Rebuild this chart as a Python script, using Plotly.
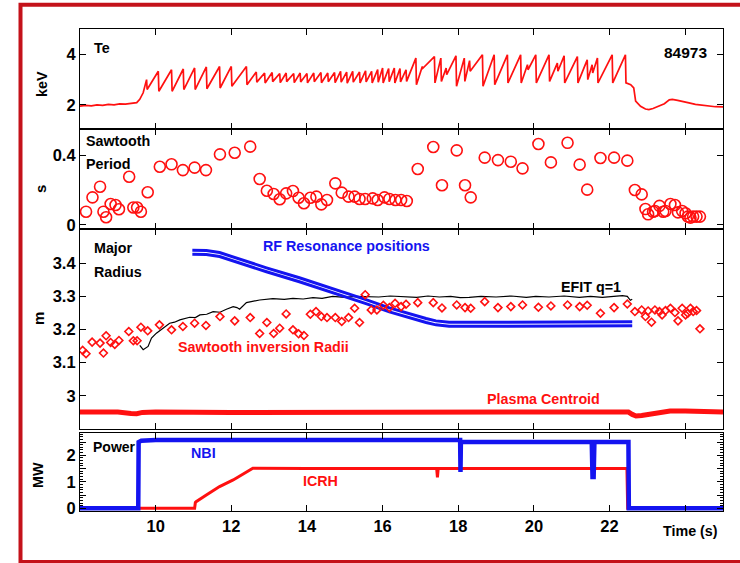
import plotly.graph_objects as go

FONT = "Liberation Sans, Arial, Helvetica, sans-serif"
RED = "#ff1010"
BLUE = "#1414f0"

# ---------------- Te (keV) ----------------
te_pre_t = [8.0, 8.15, 8.3, 8.45, 8.6, 8.75, 8.9, 9.05, 9.2, 9.35, 9.5, 9.58, 9.67]
te_pre_v = [1.95, 1.98, 1.96, 2.0, 1.98, 2.02, 2.0, 2.04, 2.03, 2.06, 2.09, 2.22, 2.48]

saw_crash_t = [9.76, 10.07, 10.42, 10.73, 11.03, 11.34, 11.69, 12.00, 12.40,
               12.66, 12.88, 13.08, 13.28, 13.45, 13.65, 13.82, 14.00, 14.18, 14.37,
               14.55, 14.73, 14.89, 15.05, 15.21, 15.39, 15.55, 15.71, 15.87, 16.00,
               16.16, 16.31, 16.46, 16.62,
               16.88, 17.05, 17.37, 17.54, 17.68, 17.94, 18.16, 18.30, 18.64, 18.95,
               19.30, 19.65, 19.83, 20.05, 20.40, 20.62, 20.80, 21.15, 21.41, 21.54,
               21.68, 22.07, 22.42]
saw_peak = [3.00, 3.33, 3.39, 3.42, 3.46, 3.50, 3.52, 3.52, 3.52,
            3.30, 3.26, 3.28, 3.24, 3.26, 3.24, 3.26, 3.24, 3.26, 3.28,
            3.26, 3.28, 3.33, 3.30, 3.33, 3.30, 3.35, 3.33, 3.40, 3.46,
            3.44, 3.46, 3.44, 3.39,
            3.85, 3.52, 3.91, 3.85, 3.46, 3.94, 3.85, 3.75, 3.98, 3.98,
            3.98, 3.98, 3.59, 3.98, 3.98, 3.65, 3.94, 3.91, 3.78, 3.59,
            3.85, 3.98, 3.98]
saw_trough = [2.61, 2.54, 2.54, 2.61, 2.61, 2.64, 2.67, 2.74, 2.80,
              2.90, 2.87, 2.92, 2.88, 2.92, 2.88, 2.91, 2.87, 2.92, 2.88,
              2.92, 2.88, 2.90, 2.86, 2.90, 2.87, 2.91, 2.87, 2.90, 2.87,
              2.92, 2.87, 2.91, 2.93,
              2.80, 3.45, 2.87, 2.93, 3.20, 2.74, 2.93, 3.33, 2.74, 2.80,
              2.87, 2.87, 3.39, 2.87, 2.93, 3.33, 2.87, 2.87, 3.00, 3.26,
              2.87, 2.87, 2.87]

te_post_t = [22.56, 22.64, 22.69, 22.82, 22.95, 23.04, 23.15, 23.30, 23.45, 23.58, 23.66,
             23.80, 23.92, 24.10, 24.27, 24.45, 24.62, 24.80, 25.0]
te_post_v = [2.80, 2.67, 2.15, 1.95, 1.84, 1.82, 1.86, 1.96, 2.05, 2.20, 2.22,
             2.18, 2.15, 2.08, 2.02, 1.98, 1.95, 1.93, 1.92]

# ---------------- Sawtooth period (s) ----------------
per_t = [8.16, 8.33, 8.53, 8.62, 8.69, 8.81, 8.94, 9.03, 9.30, 9.41, 9.51, 9.61, 9.79,
         10.11, 10.42, 10.72, 11.03, 11.33, 11.70, 12.09, 12.50, 12.75, 12.94, 13.12,
         13.28, 13.45, 13.63, 13.78, 13.92, 14.09, 14.25, 14.38, 14.53, 14.75, 14.92,
         15.10, 15.26, 15.39, 15.54, 15.74, 15.87, 16.05, 16.18, 16.34, 16.49, 16.64,
         16.93, 17.34, 17.57, 17.96, 18.18, 18.33, 18.70, 19.05, 19.39, 19.70, 20.12,
         20.45, 20.89, 21.21, 21.41, 21.76, 22.12, 22.47, 22.67, 22.85, 22.95, 23.02,
         23.15, 23.20, 23.32, 23.42, 23.48, 23.61, 23.73, 23.81, 23.92, 24.01, 24.07,
         24.14, 24.21, 24.30, 24.39]
per_v = [0.076, 0.158, 0.219, 0.076, 0.044, 0.120, 0.114, 0.090, 0.276, 0.100, 0.100,
         0.076, 0.187, 0.333, 0.347, 0.314, 0.328, 0.314, 0.404, 0.413, 0.448, 0.263,
         0.196, 0.177, 0.147, 0.181, 0.194, 0.156, 0.124, 0.156, 0.162, 0.118, 0.143,
         0.238, 0.185, 0.162, 0.162, 0.149, 0.149, 0.152, 0.143, 0.158, 0.149, 0.143,
         0.143, 0.137, 0.320, 0.446, 0.227, 0.427, 0.227, 0.158, 0.385, 0.371, 0.362,
         0.324, 0.463, 0.358, 0.470, 0.345, 0.202, 0.383, 0.385, 0.368, 0.200, 0.175,
         0.091, 0.061, 0.076, 0.080, 0.109, 0.076, 0.080, 0.120, 0.114, 0.072, 0.080,
         0.067, 0.048, 0.042, 0.048, 0.048, 0.048]

# ---------------- Major radius (m) ----------------
inv_t = [8.07, 8.16, 8.32, 8.53, 8.62, 8.69, 8.81, 8.92, 9.03, 9.29, 9.41, 9.51, 9.61,
         9.79, 10.10, 10.42, 10.72, 11.03, 11.33, 11.70, 12.09, 12.50, 12.75, 12.94,
         13.12, 13.28, 13.45, 13.63, 13.78, 13.92, 14.09, 14.24, 14.38, 14.53, 14.75,
         14.92, 15.10, 15.26, 15.39, 15.54, 15.70, 15.85, 16.02, 16.18, 16.33, 16.49,
         16.62, 16.93, 17.34, 17.57, 17.96, 18.18, 18.33, 18.70, 19.05, 19.39, 19.70,
         20.12, 20.45, 20.89, 21.21, 21.41, 21.76, 22.12, 22.47, 22.67, 22.85, 22.95,
         23.02, 23.11, 23.20, 23.32, 23.39, 23.48, 23.61, 23.73, 23.81, 23.92, 24.01,
         24.07, 24.14, 24.21, 24.30, 24.39]
inv_r = [3.137, 3.127, 3.162, 3.159, 3.129, 3.181, 3.161, 3.155, 3.167, 3.194, 3.166,
         3.166, 3.207, 3.196, 3.214, 3.199, 3.209, 3.219, 3.212, 3.239, 3.226, 3.236,
         3.188, 3.221, 3.188, 3.204, 3.247, 3.199, 3.187, 3.182, 3.246, 3.254, 3.239,
         3.236, 3.236, 3.224, 3.236, 3.264, 3.221, 3.305, 3.259, 3.259, 3.273, 3.266,
         3.279, 3.269, 3.276, 3.281, 3.281, 3.265, 3.274, 3.266, 3.264, 3.284, 3.266,
         3.269, 3.274, 3.267, 3.271, 3.274, 3.269, 3.273, 3.249, 3.266, 3.277, 3.254,
         3.259, 3.239, 3.256, 3.222, 3.259, 3.254, 3.244, 3.257, 3.264, 3.251, 3.226,
         3.264, 3.244, 3.249, 3.264, 3.254, 3.257, 3.202]

efit_t = [9.58, 9.67, 9.80, 9.89, 10.02, 10.20, 10.37, 10.50, 10.64, 10.90, 11.05, 11.17,
          11.35, 11.52, 11.70, 11.87, 12.05, 12.15, 12.22, 12.40, 12.55, 12.75, 13.10,
          13.40, 13.63, 13.90, 14.16, 14.40, 14.68, 15.00, 15.30, 15.56, 15.90, 16.20,
          16.53, 16.90, 17.20, 17.50, 17.80, 18.05, 18.29, 18.60, 19.00, 19.40, 19.80,
          20.05, 20.40, 20.80, 21.20, 21.50, 21.81, 22.10, 22.34, 22.47, 22.55, 22.60]
efit_r = [3.152, 3.139, 3.149, 3.174, 3.189, 3.204, 3.219, 3.222, 3.229, 3.237, 3.236,
          3.244, 3.246, 3.254, 3.252, 3.261, 3.269, 3.266, 3.261, 3.281, 3.284, 3.289,
          3.293, 3.291, 3.294, 3.292, 3.296, 3.294, 3.300, 3.297, 3.300, 3.300, 3.298,
          3.301, 3.300, 3.297, 3.301, 3.298, 3.300, 3.296, 3.297, 3.300, 3.298, 3.301,
          3.297, 3.300, 3.298, 3.301, 3.297, 3.300, 3.297, 3.300, 3.302, 3.300, 3.288,
          3.291]

rf_t = [10.97, 11.34, 11.69, 12.05, 12.49, 12.93, 13.80, 14.68, 15.56, 16.18, 16.71,
        17.15, 17.41, 17.76, 19.17, 20.93, 22.60]
rf_upper = [3.439, 3.438, 3.432, 3.418, 3.401, 3.386, 3.356, 3.324, 3.290, 3.265, 3.247,
            3.233, 3.226, 3.222, 3.222, 3.222, 3.223]
rf_lower = [3.427, 3.426, 3.420, 3.406, 3.389, 3.374, 3.344, 3.312, 3.278, 3.253, 3.235,
            3.221, 3.214, 3.210, 3.210, 3.210, 3.211]

cent_t = [8.0, 9.0, 9.35, 9.5, 9.65, 10.0, 12.0, 14.0, 16.0, 18.0, 20.0, 22.0, 22.5,
          22.6, 22.7, 22.85, 23.1, 23.4, 23.6, 24.0, 24.5, 25.0]
cent_r = [2.951, 2.951, 2.947, 2.946, 2.950, 2.951, 2.950, 2.951, 2.951, 2.951, 2.951,
          2.951, 2.951, 2.944, 2.939, 2.941, 2.946, 2.951, 2.954, 2.954, 2.951, 2.951]

# ---------------- Power (MW) ----------------
nbi_t = [8.0, 9.54, 9.55, 9.62, 10.0, 11.0, 12.0, 14.0, 16.0, 18.05, 18.06,
         18.07, 20.0, 21.53, 21.55, 21.58, 21.60, 22.50, 22.51, 25.0]
nbi_v = [0, 0, 2.50, 2.55, 2.58, 2.58, 2.59, 2.58, 2.59, 2.58, 1.37,
         2.50, 2.50, 2.50, 1.18, 1.18, 2.50, 2.50, 0, 0]

icrh_t = [8.0, 11.03, 11.05, 11.07, 11.34, 11.69, 12.05, 12.40, 12.57, 14.0, 16.0,
          17.43, 17.45, 17.47, 18.0, 20.0, 22.46, 22.48, 25.0]
icrh_v = [0, 0, 0.22, 0.25, 0.50, 0.82, 1.07, 1.38, 1.51, 1.50, 1.50,
          1.50, 1.17, 1.50, 1.50, 1.50, 1.50, 0, 0]

x_ticks = [10, 12, 14, 16, 18, 20, 22, 24]
x_ticklabels = ["10", "12", "14", "16", "18", "20", "22", ""]

# build the Te vertex table from the sawtooth lists
te_t = list(te_pre_t)
te_v = list(te_pre_v)
for tc, pk, tr in zip(saw_crash_t, saw_peak, saw_trough):
    te_t += [tc, tc + 0.015]
    te_v += [pk, tr]
te_t += te_post_t
te_v += te_post_v

fig = go.Figure()
fig.add_trace(go.Scatter(x=te_t, y=te_v, mode="lines", line=dict(color=RED, width=1.7),
                         xaxis="x", yaxis="y"))
fig.add_trace(go.Scatter(x=per_t, y=per_v, mode="markers",
                         marker=dict(symbol="circle-open", size=11, color=RED,
                                     line=dict(width=1.6, color=RED)),
                         xaxis="x2", yaxis="y2"))
fig.add_trace(go.Scatter(x=cent_t, y=cent_r, mode="lines", line=dict(color=RED, width=5),
                         xaxis="x3", yaxis="y3"))
fig.add_trace(go.Scatter(x=efit_t, y=efit_r, mode="lines", line=dict(color="black", width=1.2),
                         xaxis="x3", yaxis="y3"))
fig.add_trace(go.Scatter(x=rf_t, y=rf_upper, mode="lines", line=dict(color=BLUE, width=3),
                         xaxis="x3", yaxis="y3"))
fig.add_trace(go.Scatter(x=rf_t, y=rf_lower, mode="lines", line=dict(color=BLUE, width=3),
                         xaxis="x3", yaxis="y3"))
fig.add_trace(go.Scatter(x=inv_t, y=inv_r, mode="markers",
                         marker=dict(symbol="diamond-open", size=6, color=RED,
                                     line=dict(width=1.6, color=RED)),
                         xaxis="x3", yaxis="y3"))
fig.add_trace(go.Scatter(x=icrh_t, y=icrh_v, mode="lines", line=dict(color=RED, width=3),
                         xaxis="x4", yaxis="y4"))
fig.add_trace(go.Scatter(x=nbi_t, y=nbi_v, mode="lines", line=dict(color=BLUE, width=4.5),
                         xaxis="x4", yaxis="y4"))

W, H = 740, 563
L, R, T, B = 80, 17, 29, 52
PW, PH = W - L - R, H - T - B


def pxx(x):
    return (x - L) / PW


def pyy(y):
    return (H - B - y) / PH


TICKFONT = dict(family=FONT, size=16.5, color="black", weight=700)


def common(**kw):
    d = dict(showline=True, linecolor="black", linewidth=1.2, mirror="ticks",
             ticks="inside", ticklen=6, tickwidth=1.2, tickcolor="black",
             zeroline=False, showgrid=False, tickfont=TICKFONT)
    d.update(kw)
    return d


doms = [(pyy(129), 1.0), (pyy(229), pyy(129)), (pyy(429), pyy(229)), (0.0, pyy(433))]

layout = dict(width=W, height=H, margin=dict(l=L, r=R, t=T, b=B),
              paper_bgcolor="white", plot_bgcolor="white", showlegend=False,
              font=dict(family=FONT, size=14, color="black"))
for i in range(4):
    sx = "" if i == 0 else str(i + 1)
    xa = common(range=[8, 25], tickmode="array", tickvals=x_ticks, ticktext=x_ticklabels,
                anchor="y" + sx, domain=[0, 1], showticklabels=(i == 3))
    if i > 0:
        xa["matches"] = "x"
    layout["xaxis" + sx] = xa
layout["yaxis"] = common(range=[1.05, 5.0], tickvals=[2, 4], anchor="x", domain=list(doms[0]))
layout["yaxis2"] = common(range=[-0.023, 0.549], tickvals=[0, 0.4], ticktext=["0", "0.4"],
                          anchor="x2", domain=list(doms[1]))
layout["yaxis3"] = common(range=[2.90, 3.503], tickvals=[3.0, 3.1, 3.2, 3.3, 3.4],
                          ticktext=["3", "3.1", "3.2", "3.3", "3.4"],
                          anchor="x3", domain=list(doms[2]))
layout["yaxis4"] = common(range=[-0.10, 2.84], tickvals=[0, 0.5, 1, 1.5, 2, 2.5],
                          ticktext=["0", "", "1", "", "2", ""], anchor="x4",
                          domain=list(doms[3]),
                          minor=dict(dtick=0.1, tick0=0, ticks="inside", ticklen=3,
                                     tickcolor="black", tickwidth=1))
fig.update_layout(**layout)


def ann(text, x, y, color="black", xanchor="center", angle=0, size=14.3):
    fig.add_annotation(text=text, x=pxx(x), y=pyy(y), xref="paper", yref="paper",
                       showarrow=False, xanchor=xanchor, yanchor="middle",
                       textangle=angle,
                       font=dict(family=FONT, size=size, color=color, weight=700))


ann("keV", 42, 84, angle=-90)
ann("s", 40, 189, angle=-90, size=15)
ann("m", 38, 319, angle=-90, size=15)
ann("MW", 38, 475, angle=-90)
ann("Te", 92, 48, xanchor="left")
ann("84973", 685, 52, size=15.5)
ann("Sawtooth", 84, 141, xanchor="left")
ann("Period", 84, 164, xanchor="left")
ann("Major", 92, 248, xanchor="left")
ann("Radius", 92, 272, xanchor="left")
ann("RF Resonance positions", 346, 246, color=BLUE)
ann("EFIT q=1", 591, 287)
ann("Sawtooth inversion Radii", 263, 347, color=RED)
ann("Plasma Centroid", 543, 399, color=RED)
ann("Power", 91, 447, xanchor="left", size=14)
ann("NBI", 203, 453, color=BLUE)
ann("ICRH", 320, 481, color=RED)
ann("Time (s)", 690, 531)

# red frame around the figure (open on the right)
fig.add_shape(type="rect", xref="paper", yref="paper",
              x0=pxx(20.5), x1=pxx(760), y0=pyy(562), y1=pyy(4.7),
              line=dict(color="#c4121a", width=4), fillcolor="rgba(0,0,0,0)", layer="below")

fig.write_html("out.html", config={"displayModeBar": False},
               post_script="document.body.style.margin='0px';")
